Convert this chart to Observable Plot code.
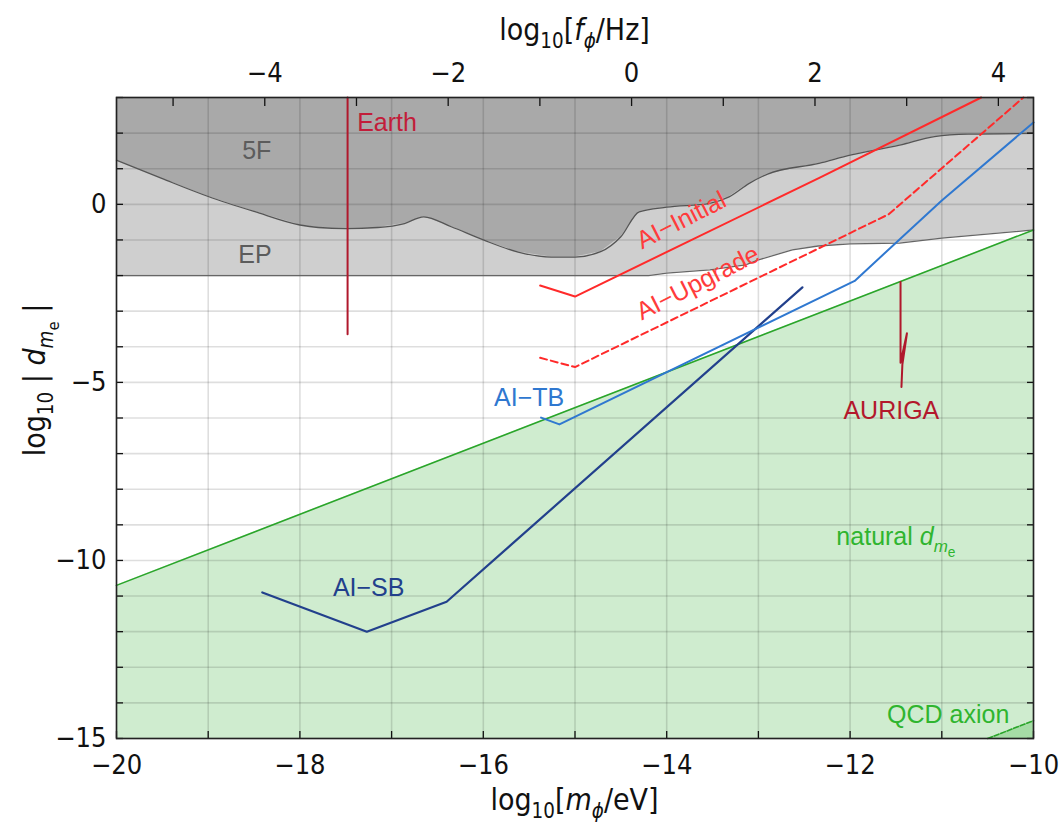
<!DOCTYPE html>
<html><head><meta charset="utf-8">
<script src="https://cdn.jsdelivr.net/npm/d3@7"></script>
<script src="https://cdn.jsdelivr.net/npm/@observablehq/plot@0.6"></script>
<style>
body{margin:0;background:#fff;}
#chart{width:1062px;height:826px;}
</style></head><body><div id="chart"></div>
<script>
// ---------- data ----------
const xDomain = [-20, -10];           // log10[m/eV]
const yDomain = [-15, 3];             // log10|d_me|
const hzOffset = 14.383;              // log10 f[Hz] = log10 m[eV] + 14.383

const fiveFBoundary = [[-20,1.24],[-19.5,0.72],[-19,0.22],[-18.5,-0.2],[-18,-0.58],[-17.8,-0.65],[-17.5,-0.68],[-17.15,-0.65],[-16.86,-0.54],[-16.65,-0.35],[-16.35,-0.63],[-16,-1.0],[-15.62,-1.34],[-15.26,-1.48],[-15,-1.48],[-14.72,-1.33],[-14.5,-0.91],[-14.3,-0.21],[-14,-0.08],[-13.53,0.03],[-13.32,0.21],[-13.1,0.59],[-12.9,0.85],[-12.34,1.15],[-12,1.38],[-11.46,1.66],[-11.08,1.9],[-10.71,1.97],[-10,1.99]];
const epBoundary = [[-20,-2],[-14.2,-2],[-14,-1.93],[-13.53,-1.84],[-13.14,-1.7],[-13,-1.56],[-12.63,-1.28],[-12.35,-1.17],[-12,-1.11],[-11.46,-1.09],[-11,-0.95],[-10,-0.72]];
const naturalLine = [[-20,-10.7],[-10,-0.72]];
const qcdLine = [[-10.5,-15],[-10,-14.5]];
const aiInitial = [[-15.38,-2.28],[-15,-2.59],[-12.33,0.75],[-10.57,3.0]];
const aiUpgrade = [[-15.38,-4.31],[-15,-4.57],[-11.58,-0.28],[-10.11,3.0]];
const aiTB = [[-15.37,-5.99],[-15.17,-6.18],[-11.95,-2.15],[-11,0.11],[-10,2.3]];
const aiSB = [[-18.41,-10.9],[-17.27,-12.0],[-16.4,-11.16],[-12.52,-2.33]];
const earth = [[-17.48,3],[-17.48,-3.65]];
const auriga = [[-11.45,-2.18],[-11.45,-4.45],[-11.38,-3.62],[-11.43,-4.5],[-11.44,-5.13]];

const xMajorTicks = [-20,-18,-16,-14,-12,-10];
const xMinorTicks = [-20,-19,-18,-17,-16,-15,-14,-13,-12,-11,-10];
const yMajorTicks = [0,-5,-10,-15];
const yMinorTicks = [3,2,1,0,-1,-2,-3,-4,-5,-6,-7,-8,-9,-10,-11,-12,-13,-14,-15];
const fMajorTicks = [-4,-2,0,2,4];
const fMinorTicks = [-5,-4,-3,-2,-1,0,1,2,3,4];

const labels = [
  {x:-17.05, y:2.29, text:"Earth", color:"#c21d3a", rot:0},
  {x:-18.47, y:1.49, text:"5F", color:"#5c5c5c", rot:0},
  {x:-18.49, y:-1.43, text:"EP", color:"#5c5c5c", rot:0},
  {x:-13.84, y:-0.45, text:"AI\u2212Initial", color:"#ff3b3b", rot:-27},
  {x:-13.66, y:-2.21, text:"AI\u2212Upgrade", color:"#ff3b3b", rot:-27},
  {x:-15.5, y:-5.45, text:"AI\u2212TB", color:"#2f78d0", rot:0},
  {x:-17.25, y:-10.76, text:"AI\u2212SB", color:"#22408c", rot:0},
  {x:-11.55, y:-5.8, text:"AURIGA", color:"#b3182c", rot:0},
  {x:-11.5, y:-9.35, text:"natural d_me", color:"#2fb52f", rot:0},
  {x:-10.93, y:-14.35, text:"QCD axion", color:"#2fb52f", rot:0}
];

// ---------- styles ----------
const NARROW = "'Liberation Sans Narrow','Arial Narrow','DejaVu Sans Condensed','Liberation Sans',sans-serif";
const SANS = "'Liberation Sans',Arial,sans-serif";
const fmtMinus = v => v < 0 ? "\u2212" + (-v) : String(v);
const X = d => d[0], Y = d => d[1];

const plot = Plot.plot({
  width: 1062, height: 826,
  marginLeft: 116, marginRight: 29, marginTop: 97, marginBottom: 88,
  x: {domain: xDomain},
  y: {domain: yDomain},
  style: {fontFamily: NARROW, fontSize: "27px", background: "white", color: "#111"},
  marks: [
    Plot.areaY(epBoundary, {x: X, y1: Y, y2: () => yDomain[1], fill: "#cfcfcf"}),
    Plot.areaY(fiveFBoundary, {x: X, y1: Y, y2: () => yDomain[1], fill: "#a9a9a9"}),
    Plot.areaY(naturalLine, {x: X, y1: () => yDomain[0], y2: Y, fill: "#cfeccf"}),
    Plot.areaY(qcdLine, {x: X, y1: () => yDomain[0], y2: Y, fill: "#a6dca6"}),
    Plot.gridX({ticks: xMinorTicks, stroke: "#000", strokeOpacity: 0.13, strokeWidth: 1.6}),
    Plot.gridY({ticks: yMinorTicks, stroke: "#000", strokeOpacity: 0.13, strokeWidth: 1.6}),
    Plot.line(fiveFBoundary, {x: X, y: Y, stroke: "#555", strokeWidth: 1.3, curve: "monotone-x"}),
    Plot.line(epBoundary, {x: X, y: Y, stroke: "#666", strokeWidth: 1.3}),
    Plot.line(naturalLine, {x: X, y: Y, stroke: "#2aa52a", strokeWidth: 1.6}),
    Plot.line(qcdLine, {x: X, y: Y, stroke: "#2aa52a", strokeWidth: 1.6, strokeDasharray: "5,2"}),
    Plot.line(earth, {x: X, y: Y, stroke: "#b0182c", strokeWidth: 2}),
    Plot.line(auriga, {x: X, y: Y, stroke: "#b0182c", strokeWidth: 2}),
    Plot.line(aiSB, {x: X, y: Y, stroke: "#22408c", strokeWidth: 2.2}),
    Plot.line(aiTB, {x: X, y: Y, stroke: "#2f78d0", strokeWidth: 2}),
    Plot.line(aiInitial, {x: X, y: Y, stroke: "#ff2a2a", strokeWidth: 2}),
    Plot.line(aiUpgrade, {x: X, y: Y, stroke: "#ff2a2a", strokeWidth: 2, strokeDasharray: "7,4"}),
    ...labels.map(l => Plot.text([l], {x: "x", y: "y", text: "text", fill: l.color, rotate: l.rot, fontSize: 25, fontFamily: SANS})),
    // axes: ticks inward
    Plot.axisX({anchor: "bottom", ticks: xMinorTicks, tickSize: -7, fill: "none", label: null, strokeWidth: 1.3}),
    Plot.axisX({anchor: "bottom", ticks: xMajorTicks, tickSize: 0, tickPadding: 16, tickFormat: fmtMinus, label: null}),
    Plot.axisX({anchor: "top", ticks: fMinorTicks.map(f => f - hzOffset), tickSize: -8, fill: "none", label: null, strokeWidth: 1.3}),
    Plot.axisX({anchor: "top", ticks: fMajorTicks.map(f => f - hzOffset), tickSize: 0, tickPadding: 16, tickFormat: v => fmtMinus(Math.round(v + hzOffset)), label: null}),
    Plot.axisY({anchor: "left", ticks: yMinorTicks, tickSize: -7, fill: "none", label: null, strokeWidth: 1.3}),
    Plot.axisY({anchor: "left", ticks: yMajorTicks, tickSize: 0, tickPadding: 10, tickFormat: fmtMinus, label: null}),
    Plot.axisY({anchor: "right", ticks: yMinorTicks, tickSize: -7, fill: "none", label: null, strokeWidth: 1.3}),
    Plot.frame({stroke: "#222", strokeWidth: 1.6})
  ]
});
document.getElementById("chart").appendChild(plot);

// ---------- rich text helpers ----------
function setRich(el, parts, base) {
  const t = d3.select(el);
  t.text(null);
  const sizes = [1, 0.68, 0.55];
  const shift = [0, 0.28, 0.45];
  let level = 0;
  parts.forEach(p => {
    const lv = p.s || 0;
    const ts = t.append("tspan").text(p.t).attr("font-size", (sizes[lv] * base).toFixed(1) + "px");
    if (p.i) ts.attr("font-style", "italic");
    const dy = (shift[lv] - shift[level]) * base;
    if (dy) ts.attr("dy", dy.toFixed(1));
    level = lv;
  });
}
const svg = d3.select(plot);
svg.selectAll("text").each(function() {
  if (this.textContent === "natural d_me") {
    setRich(this, [{t:"natural "},{t:"d",i:1},{t:"m",i:1,s:1},{t:"e",s:2}], 25);
  }
});

const fx0 = 116, fx1 = 1033, fy0 = 97, fy1 = 738;
function addTitle(x, y, rot, parts, base) {
  const t = svg.append("text")
    .attr("transform", `translate(${x},${y}) rotate(${rot})`)
    .attr("text-anchor", "middle")
    .attr("font-family", NARROW)
    .attr("fill", "#111")
    .attr("font-size", base + "px");
  setRich(t.node(), parts, base);
}
addTitle((fx0 + fx1) / 2, 40, 0, [{t:"log"},{t:"10",s:1},{t:"["},{t:"f",i:1},{t:"\u03d5",i:1,s:1},{t:"/Hz]"}], 30);
addTitle((fx0 + fx1) / 2, 810, 0, [{t:"log"},{t:"10",s:1},{t:"["},{t:"m",i:1},{t:"\u03d5",i:1,s:1},{t:"/eV]"}], 30);
addTitle(45, 380, -90, [{t:"log"},{t:"10",s:1},{t:" | "},{t:"d",i:1},{t:"m",i:1,s:1},{t:"e",s:2},{t:" |"}], 30);
</script>
</body></html>
